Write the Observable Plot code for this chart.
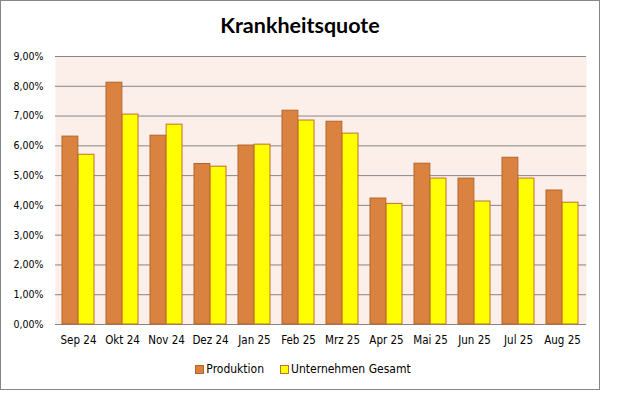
<!DOCTYPE html>
<html>
<head>
<meta charset="utf-8">
<script src="https://cdn.jsdelivr.net/npm/d3@7"></script>
<script src="https://cdn.jsdelivr.net/npm/@observablehq/plot@0.6"></script>
<style>
  html, body { margin: 0; padding: 0; background: #fff; }
  #wrap { position: relative; width: 626px; height: 399px; overflow: hidden; }
  #frame { position: absolute; left: 0; top: 0; width: 598px; height: 388px; border: 1px solid #868686; box-sizing: content-box; }
  #title { position: absolute; left: 0; width: 600px; top: 12px; text-align: center; font-family: Lato, "Open Sans", sans-serif; font-weight: bold; font-size: 21.5px; color: #000; }
  #chart { position: absolute; left: 0; top: 0; }
  #legend { position: absolute; left: 0; width: 606px; top: 362px; text-align: center; font-family: "DejaVu Sans Condensed", "DejaVu Sans", sans-serif; font-stretch: condensed; font-size: 12px; color: #000; }
  #legend span.item { display: inline-flex; align-items: center; margin: 0 8px; }
  #legend span.sw { display: inline-block; width: 9px; height: 9px; margin-right: 2px; box-sizing: border-box; }
</style>
</head>
<body>
<div id="wrap">
  <div id="frame"></div>
  <div id="chart"></div>
  <div id="title">Krankheitsquote</div>
  <div id="legend"></div>
</div>
<script>
const months = ["Sep 24", "Okt 24", "Nov 24", "Dez 24", "Jan 25", "Feb 25", "Mrz 25", "Apr 25", "Mai 25", "Jun 25", "Jul 25", "Aug 25"];
const produktion = [0.0631, 0.0812, 0.0634, 0.0539, 0.0601, 0.0718, 0.0681, 0.0423, 0.0540, 0.0490, 0.0560, 0.0450];
const gesamt = [0.0570, 0.0705, 0.0671, 0.0530, 0.0604, 0.0685, 0.0641, 0.0405, 0.0490, 0.0413, 0.0490, 0.0409];
const seriesNames = ["Produktion", "Unternehmen Gesamt"];
const yTicks = [0, 0.01, 0.02, 0.03, 0.04, 0.05, 0.06, 0.07, 0.08, 0.09];

const colors = {
  "Produktion": {fill: "#DA823F", stroke: "#B3652A"},
  "Unternehmen Gesamt": {fill: "#FFFF00", stroke: "#C0702A"}
};

const prodData = months.map((m, i) => ({month: m, value: produktion[i]}));
const gesData = months.map((m, i) => ({month: m, value: gesamt[i]}));

const W = 626, H = 399;
const mL = 55, mR = 40, mT = 56, mB = 75;
const step = (W - mL - mR) / months.length;
const bw = step * (1 - 0.27);
const half = bw / 2;

const fmt = d => (d * 100).toFixed(2).replace(".", ",") + "%";

const chart = Plot.plot({
  width: W,
  height: H,
  marginLeft: mL,
  marginRight: mR,
  marginTop: mT,
  marginBottom: mB,
  style: {fontFamily: "'DejaVu Sans Condensed', 'DejaVu Sans', sans-serif", fontSize: "10.5px", color: "#000", background: "transparent", fontStretch: "condensed"},
  x: {domain: months, paddingInner: 0.27, paddingOuter: 0.135, label: null},
  y: {domain: [0, 0.09], label: null},
  marks: [
    Plot.frame({fill: "#FCEEE8", stroke: null}),
    Plot.ruleY(yTicks, {stroke: "#868686", strokeWidth: 1}),
    Plot.barY(prodData, {x: "month", y: "value", fill: colors["Produktion"].fill, stroke: colors["Produktion"].stroke, strokeWidth: 1, insetRight: half, insetLeft: 0}),
    Plot.barY(gesData, {x: "month", y: "value", fill: colors["Unternehmen Gesamt"].fill, stroke: colors["Unternehmen Gesamt"].stroke, strokeWidth: 1, insetLeft: half, insetRight: 0}),
    Plot.axisY({ticks: yTicks, tickFormat: fmt, tickSize: 0, tickPadding: 12, label: null, fill: "#000"}),
    Plot.axisX({tickSize: 0, tickPadding: 11, label: null, fill: "#000", fontSize: 11.5})
  ]
});
document.getElementById("chart").appendChild(chart);

const legend = document.getElementById("legend");
seriesNames.forEach(name => {
  const item = document.createElement("span");
  item.className = "item";
  const sw = document.createElement("span");
  sw.className = "sw";
  sw.style.background = colors[name].fill;
  sw.style.border = "1px solid " + colors[name].stroke;
  item.appendChild(sw);
  item.appendChild(document.createTextNode(name));
  legend.appendChild(item);
});
</script>
</body>
</html>
